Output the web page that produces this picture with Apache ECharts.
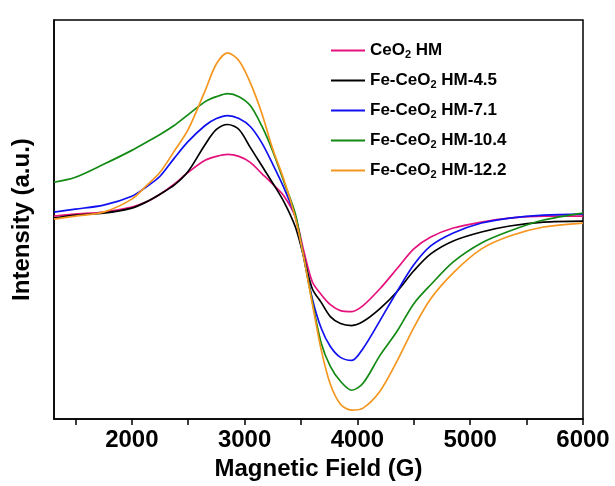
<!DOCTYPE html>
<html>
<head>
<meta charset="utf-8">
<script src="https://cdn.jsdelivr.net/npm/echarts@6/dist/echarts.min.js"></script>
<style>
  html, body { margin: 0; padding: 0; background: #fff; }
  #chart { width: 615px; height: 486px; }
</style>
</head>
<body>
<div id="chart"></div>
<script>
// EPR spectra: magnetic field (G) vs. derivative intensity (arbitrary units)
const fieldG = [1310, 1500, 1750, 2000, 2125, 2250, 2375, 2500, 2650, 2750, 2850, 2950, 3050, 3150, 3250, 3350, 3450,
  3520, 3600, 3680, 3760, 3850, 3950, 4050, 4200, 4350, 4500, 4650, 4850, 5100, 5350, 5650, 6000];

const ceo2HM = [-2, 0, 2, 7, 12, 20, 30, 42, 54, 58, 60, 58, 52, 41, 30, 18, -3,
  -35, -68, -81, -91, -97, -98, -92, -75, -55, -35, -23, -14, -8, -4, -2, -2];
const feHM45 = [-4, -1, 1, 6, 12, 20, 29, 43, 70, 85, 90, 85, 67, 49, 31, 12, -13,
  -41, -75, -89, -103, -110, -112, -108, -95, -78, -57, -40, -27, -18, -12, -8, -7];
const feHM71 = [2, 5, 9, 18, 27, 38, 56, 73, 89, 96, 99, 96, 88, 72, 50, 26, -3,
  -41, -85, -115, -133, -144, -147, -135, -107, -78, -51, -32, -19, -9, -4, -1, 0];
const feHM104 = [32, 37, 50, 64, 72, 80, 89, 100, 113, 118, 121, 118, 109, 89, 63, 32, 0,
  -41, -88, -130, -153, -168, -177, -170, -142, -118, -90, -71, -48, -29, -17, -6, 1];
const feHM122 = [-5, -2, 2, 15, 28, 42, 63, 85, 124, 151, 162, 154, 132, 102, 65, 34, -4,
  -41, -90, -137, -171, -191, -197, -195, -178, -148, -114, -85, -59, -35, -22, -13, -9];

const seriesNames = ['CeO2 HM', 'Fe-CeO2 HM-4.5', 'Fe-CeO2 HM-7.1', 'Fe-CeO2 HM-10.4', 'Fe-CeO2 HM-12.2'];
const seriesValues = [ceo2HM, feHM45, feHM71, feHM104, feHM122];
const seriesColors = ['#e5127d', '#000000', '#1010f0', '#138a13', '#f5961e'];

const xLabelValues = [2000, 3000, 4000, 5000, 6000];
const xTickValues = [1500, 2000, 2500, 3000, 3500, 4000, 4500, 5000, 5500, 6000];

const FONT = '"Liberation Sans", Arial, sans-serif';

// Legend text with subscripted "2" in CeO2
function legendLabel(name) {
  const i = name.indexOf('CeO2');
  const before = name.slice(0, i + 3);
  const after = name.slice(i + 4);
  return '{n|' + before + '}{s|2}{n|' + after + '}';
}

const chart = echarts.init(document.getElementById('chart'), null, { renderer: 'canvas' });

chart.setOption({
  backgroundColor: '#ffffff',
  animation: false,
  grid: {
    left: 54, right: 32, top: 20, bottom: 65,
    show: true, borderColor: '#000', borderWidth: 1.5, backgroundColor: 'transparent'
  },
  legend: {
    orient: 'vertical',
    left: 326,
    top: 37,
    itemWidth: 34,
    itemHeight: 12,
    itemGap: 11.5,
    formatter: legendLabel,
    textStyle: {
      rich: {
        n: { fontFamily: FONT, fontWeight: 'bold', fontSize: 17, color: '#000', lineHeight: 20 },
        s: { fontFamily: FONT, fontWeight: 'bold', fontSize: 11, color: '#000', lineHeight: 12, verticalAlign: 'bottom' }
      }
    },
    data: seriesNames.map((n, k) => ({
      name: n,
      icon: 'path://M0,0 L34,0 L34,2 L0,2 Z',
      itemStyle: { color: seriesColors[k] }
    }))
  },
  xAxis: {
    type: 'value',
    min: 1310,
    max: 6000,
    name: 'Magnetic Field (G)',
    nameLocation: 'middle',
    nameGap: 33,
    nameTextStyle: { fontFamily: FONT, fontWeight: 'bold', fontSize: 24, color: '#000' },
    axisLine: { show: true, onZero: false, lineStyle: { color: '#000', width: 1.5 } },
    axisTick: { show: true, inside: false, length: 6, customValues: xTickValues, lineStyle: { color: '#000', width: 1.5 } },
    axisLabel: {
      customValues: xLabelValues,
      formatter: v => String(v),
      margin: 9,
      fontFamily: FONT, fontWeight: 'bold', fontSize: 24, color: '#000'
    },
    splitLine: { show: false }
  },
  yAxis: {
    type: 'value',
    min: -206,
    max: 195,
    name: 'Intensity (a.u.)',
    nameLocation: 'middle',
    nameGap: 20,
    nameTextStyle: { fontFamily: FONT, fontWeight: 'bold', fontSize: 24, color: '#000' },
    axisLine: { show: true, onZero: false, lineStyle: { color: '#000', width: 1.5 } },
    axisTick: { show: false },
    axisLabel: { show: false },
    splitLine: { show: false }
  },
  series: seriesNames.map((n, k) => ({
    name: n,
    type: 'line',
    data: fieldG.map((g, i) => [g, seriesValues[k][i]]),
    symbol: 'none',
    showSymbol: false,
    smooth: 0.3,
    lineStyle: { color: seriesColors[k], width: 1.7 },
    itemStyle: { color: seriesColors[k] }
  }))
});
</script>
</body>
</html>
